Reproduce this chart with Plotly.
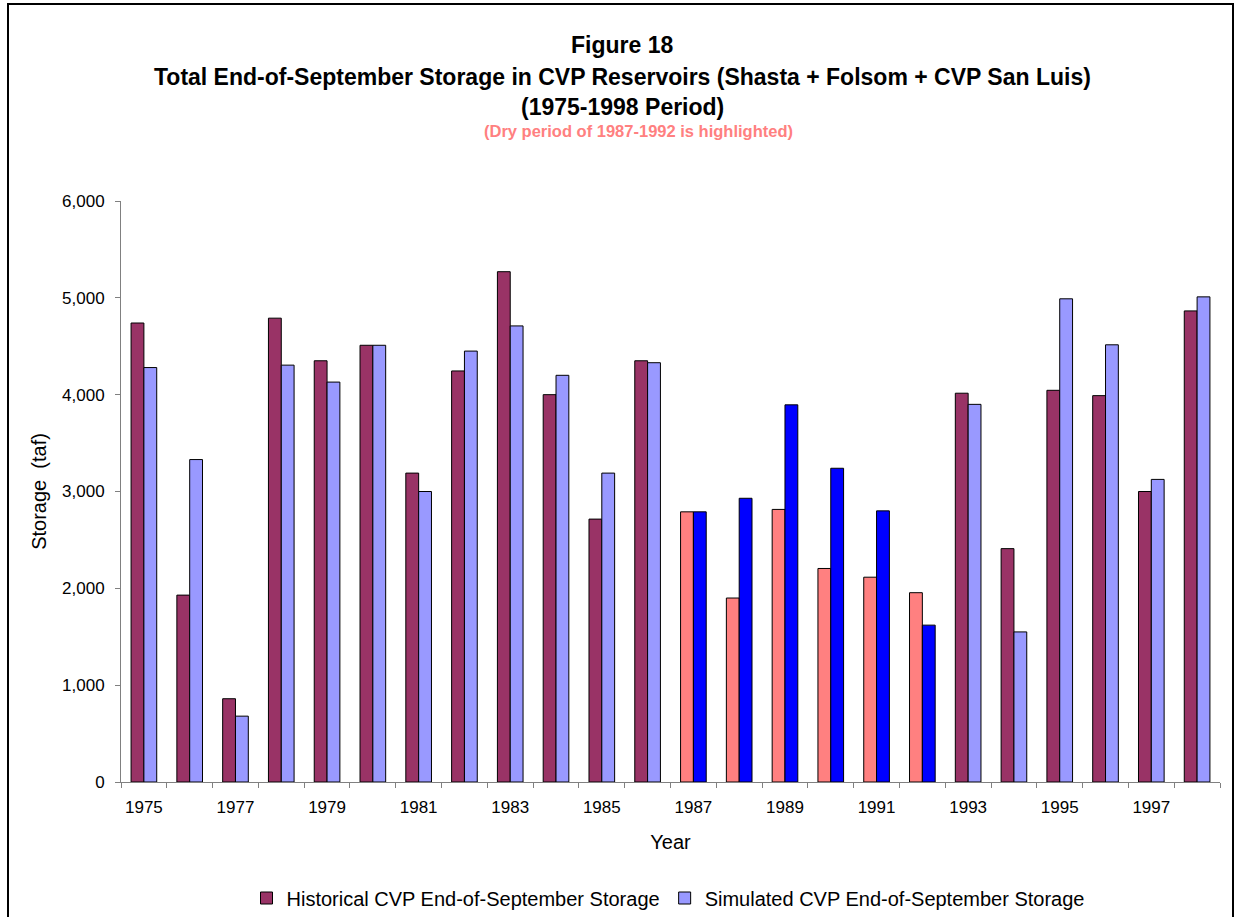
import plotly.graph_objects as go

years = list(range(1975, 1999))
historical = [4740, 1930, 860, 4790, 4350, 4510, 3190, 4245, 5270, 4000, 2715, 4350,
              2790, 1900, 2815, 2205, 2115, 1955, 4015, 2410, 4045, 3990, 3000, 4865]
simulated = [4280, 3330, 680, 4305, 4130, 4510, 3000, 4450, 4710, 4200, 3190, 4330,
             2790, 2930, 3895, 3240, 2800, 1620, 3900, 1550, 4990, 4515, 3125, 5010]
dry_years = [1987, 1988, 1989, 1990, 1991, 1992]
label_years = list(range(1975, 1999, 2))
y_ticks = [0, 1000, 2000, 3000, 4000, 5000, 6000]

HIST_C, SIM_C = "#993366", "#9999FF"
HIST_DRY, SIM_DRY = "#FF8080", "#0000FF"

hist_colors = [HIST_DRY if y in dry_years else HIST_C for y in years]
sim_colors = [SIM_DRY if y in dry_years else SIM_C for y in years]

W, H = 1235, 917
L, R, T, B = 121, 1220, 201, 782

def px(x):
    return (x - L) / (R - L)

def py(y):
    return (B - y) / (B - T)

fig = go.Figure()
fig.add_trace(go.Bar(x=years, y=historical, name="Historical CVP End-of-September Storage",
                     marker=dict(color=hist_colors, line=dict(color="black", width=1))))
fig.add_trace(go.Bar(x=years, y=simulated, name="Simulated CVP End-of-September Storage",
                     marker=dict(color=sim_colors, line=dict(color="black", width=1))))

font = "Liberation Sans, Arial, sans-serif"
ann = [
    dict(text="<b>Figure 18</b>", x=px(622), y=py(45), size=23, color="black"),
    dict(text="<b>Total End-of-September Storage in CVP Reservoirs (Shasta + Folsom + CVP San Luis)</b>",
         x=px(622), y=py(77), size=23, color="black"),
    dict(text="<b>(1975-1998 Period)</b>", x=px(622), y=py(107), size=23, color="black"),
    dict(text="<b>(Dry period of 1987-1992 is highlighted)</b>", x=px(638), y=py(131), size=16.5,
         color="#FF8080"),
]
annotations = [dict(text=a["text"], x=a["x"], y=a["y"], xref="paper", yref="paper",
                    xanchor="center", yanchor="middle", showarrow=False,
                    font=dict(family=font, size=a["size"], color=a["color"])) for a in ann]

fig.update_layout(
    width=W, height=H,
    margin=dict(l=L, r=W - R, t=T, b=H - B, autoexpand=False),
    paper_bgcolor="white", plot_bgcolor="white",
    barmode="group", bargap=0.44, bargroupgap=0,
    font=dict(family=font, size=17, color="black"),
    showlegend=True,
    legend=dict(orientation="h", x=px(668), xanchor="center",
                yref="container", y=1 - 898 / H, yanchor="middle",
                font=dict(size=20), itemwidth=30, traceorder="normal"),
    annotations=annotations,
    shapes=[dict(type="rect", xref="paper", yref="paper", x0=px(8), x1=px(1233),
                 y0=py(940), y1=py(4), line=dict(color="black", width=2), layer="below")],
    xaxis=dict(range=[1974.5, 1998.5], tickmode="array", tickvals=label_years,
               ticktext=[str(y) for y in label_years], ticks="", showgrid=False,
               showline=True, linecolor="#808080", linewidth=1, ticklabelstandoff=10,
               title=dict(text="Year", font=dict(size=20), standoff=18),
               minor=dict(tick0=1974.5, dtick=1, ticks="outside", ticklen=5,
                          tickcolor="#808080", showgrid=False),
               zeroline=False),
    yaxis=dict(range=[0, 6000], tickmode="array", tickvals=y_ticks,
               ticktext=[f"{v:,}" for v in y_ticks], ticks="outside", ticklen=5,
               tickcolor="#808080", showgrid=False, showline=True, linecolor="#808080",
               linewidth=1, zeroline=False, ticklabelstandoff=7,
               title=dict(text="Storage  (taf)", font=dict(size=20), standoff=10)),
)

post = ("document.documentElement.style.margin='0px';"
        "document.documentElement.style.overflow='hidden';"
        "document.body.style.margin='0px';"
        "document.body.style.padding='0px';"
        "document.body.style.overflow='hidden';"
        "document.body.style.height='917px';")
fig.write_html("out.html", post_script=post, config={"displayModeBar": False})
